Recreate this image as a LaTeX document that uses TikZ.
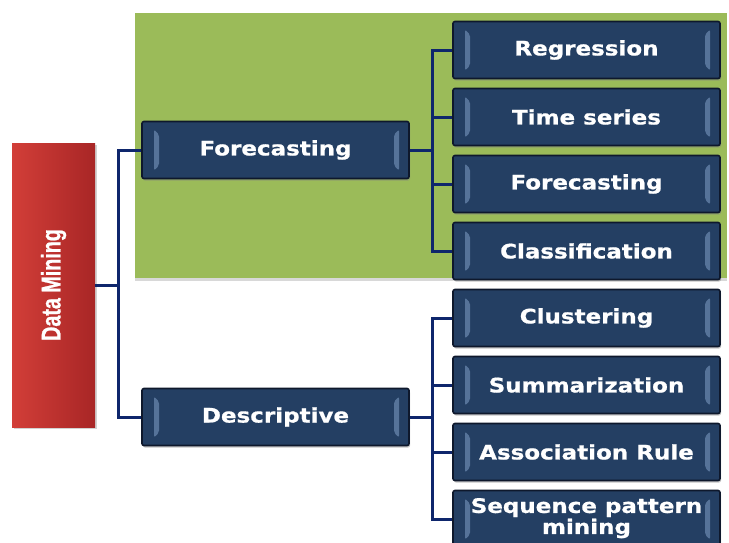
\documentclass[tikz,border=0pt]{standalone}
\usepackage{fontspec}
\setmainfont{DejaVu Sans}[FakeStretch=1.15, BoldFeatures={FakeBold=0.8}]
\newfontfamily\narrowfont{Liberation Sans}[FakeStretch=0.73, BoldFeatures={FakeBold=0.8}]
\usetikzlibrary{positioning,shadows}
\definecolor{boxblue}{RGB}{36,63,99}
\definecolor{boxedge}{RGB}{14,24,44}
\definecolor{bevel}{RGB}{120,150,190}
\definecolor{linkblue}{RGB}{14,38,108}
\definecolor{panelgreen}{RGB}{155,187,89}
\definecolor{rootredl}{RGB}{210,62,56}
\definecolor{rootredr}{RGB}{168,38,38}

\begin{document}
\begin{tikzpicture}[x=1pt, y=1pt, node distance=67pt,
    topic/.style={rectangle, draw=boxedge, line width=1.6pt, fill=boxblue, rounded corners=2pt, minimum width=267pt, minimum height=57pt, text=white, align=center, font=\fontsize{20}{21}\selectfont\bfseries,
      drop shadow={shadow xshift=1pt, shadow yshift=-2pt, opacity=0.45},
      path picture={
        \fill[bevel, opacity=0.6] ([shift={(12pt,-8pt)}]path picture bounding box.north west) -- ([shift={(17pt,-13pt)}]path picture bounding box.north west) -- ([shift={(17pt,13pt)}]path picture bounding box.south west) -- ([shift={(12pt,8pt)}]path picture bounding box.south west) -- cycle;
        \fill[bevel, opacity=0.6] ([shift={(-10pt,-8pt)}]path picture bounding box.north east) -- ([shift={(-15pt,-13pt)}]path picture bounding box.north east) -- ([shift={(-15pt,13pt)}]path picture bounding box.south east) -- ([shift={(-10pt,8pt)}]path picture bounding box.south east) -- cycle;
      }},
    root/.style={rectangle, rotate=90, minimum width=284pt, minimum height=83pt, left color=rootredl, right color=rootredr, text=white, font=\narrowfont\fontsize{27}{29}\selectfont\bfseries,
      drop shadow={shadow xshift=2pt, shadow yshift=-2pt, opacity=0.35}},
    panel/.style={rectangle, fill=panelgreen, minimum width=592pt, minimum height=265pt,
      drop shadow={shadow xshift=0pt, shadow yshift=-3pt, opacity=0.3}},
    line/.style={draw=linkblue, line width=3pt}]
    \useasboundingbox (0,0) rectangle (729,-542);
    \fill[white] (0,0) rectangle (729,-542);

    \node [panel] (fcpanel) at (431,-145.5) {};

    \node [root] (dm) at (53.5,-285) {Data Mining};
    \node [topic] (fc) at (275.5,-150) {Forecasting};
    \node [topic] (ds) at (275.5,-417) {Descriptive};

    \node [topic] (reg) at (586.5,-50) {Regression};
    \node [topic, below of=reg] (tser) {Time series};
    \node [topic, below of=tser] (fcst) {Forecasting};
    \node [topic, below of=fcst] (clsf) {Classification};
    \node [topic, below of=clsf] (clus) {Clustering};
    \node [topic, below of=clus] (summ) {Summarization};
    \node [topic, below of=summ] (assoc) {Association Rule};
    \node [topic, below of=assoc, text depth=6pt] (seqp) {Sequence pattern\\mining};

    \coordinate (rj) at (118,-285);
    \coordinate (fj) at (432,-150);
    \coordinate (dj) at (432,-417);

    \path [line] (dm) -- (rj);
    \path [line] (rj) |- (fc);
    \path [line] (rj) |- (ds);
    \path [line] (fc) -- (fj);
    \path [line] (ds) -- (dj);
    \foreach \leaf in {reg,tser,fcst,clsf}
        \path [line] (fj) |- (\leaf);
    \foreach \leaf in {clus,summ,assoc,seqp}
        \path [line] (dj) |- (\leaf);
\end{tikzpicture}
\end{document}
